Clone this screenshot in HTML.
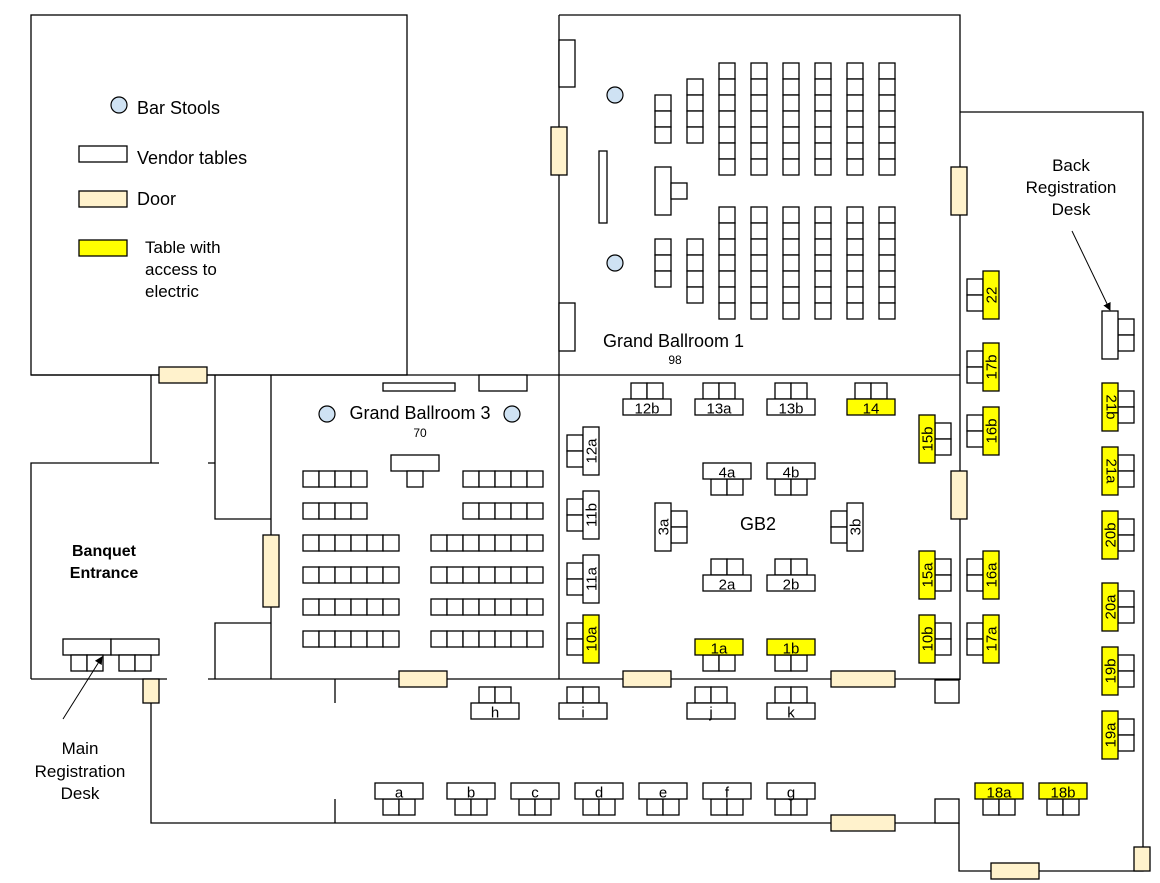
<!DOCTYPE html>
<html><head><meta charset="utf-8"><style>
html,body{margin:0;padding:0;background:#fff;}
svg{display:block;font-family:"Liberation Sans",Arial,sans-serif;}
.w{fill:none;stroke:#000;stroke-width:1.3}
.b{fill:#fff;stroke:#000;stroke-width:1.3}
.y{fill:#ffff00;stroke:#000;stroke-width:1.3}
.d{fill:#fff2cc;stroke:#000;stroke-width:1.3}
.s{fill:#cfe2f3;stroke:#000;stroke-width:1.2}
.t{font-size:15px;text-anchor:middle;fill:#000}
.l{font-size:18px;fill:#000}
</style></head><body>
<svg width="1160" height="883" viewBox="0 0 1160 883" xmlns="http://www.w3.org/2000/svg">
<defs><marker id="ar" markerWidth="8" markerHeight="8" refX="7" refY="4" orient="auto" markerUnits="userSpaceOnUse"><path d="M0,0 L8,4 L0,8 z" fill="#000"/></marker></defs>
<g class="w">
<rect x="31" y="15" width="376" height="360"/>
<path d="M559,15 H960 V680 M559,15 V679"/>
<path d="M31,375 H960"/>
<path d="M271,375 V679"/>
<path d="M31,679 H167 M208,679 H960"/>
<path d="M31,679 V463 H159 M208,463 H215"/>
<path d="M151,375 V463 M215,375 V519 H271 M215,679 V623 H271"/>
<path d="M151,703 V823 H959 M335,679 V703 M335,799 V823"/>
<path d="M960,112 H1143 V871 H959 V823"/>
<rect x="935" y="680" width="24" height="23" class="b"/>
<rect x="935" y="799" width="24" height="24" class="b"/>
</g>
<g class="d">
<rect x="159" y="367" width="48" height="16"/>
<rect x="263" y="535" width="16" height="72"/>
<rect x="143" y="679" width="16" height="24"/>
<rect x="551" y="127" width="16" height="48"/>
<rect x="951" y="167" width="16" height="48"/>
<rect x="951" y="471" width="16" height="48"/>
<rect x="399" y="671" width="48" height="16"/>
<rect x="623" y="671" width="48" height="16"/>
<rect x="831" y="671" width="64" height="16"/>
<rect x="831" y="815" width="64" height="16"/>
<rect x="991" y="863" width="48" height="16"/>
<rect x="1134" y="847" width="16" height="24"/>
</g>
<circle cx="119" cy="105" r="8" class="s"/>
<text x="137" y="114" class="l">Bar Stools</text>
<rect x="79" y="146" width="48" height="16" class="b"/>
<text x="137" y="164" class="l">Vendor tables</text>
<rect x="79" y="191" width="48" height="16" class="d"/>
<text x="137" y="205" class="l">Door</text>
<rect x="79" y="240" width="48" height="16" class="y"/>
<text x="145" y="253" class="l" style="font-size:17px">Table with</text>
<text x="145" y="275" class="l" style="font-size:17px">access to</text>
<text x="145" y="297" class="l" style="font-size:17px">electric</text>
<g class="b">
<rect x="559" y="40" width="16" height="47"/>
<rect x="559" y="303" width="16" height="48"/>
<rect x="599" y="151" width="8" height="72"/>
<rect x="655" y="167" width="16" height="48"/>
<rect x="671" y="183" width="16" height="16"/>
</g>
<circle cx="615" cy="95" r="8" class="s"/>
<circle cx="615" cy="263" r="8" class="s"/>
<g id="cols" class="b"></g>
<text x="603" y="347" class="l">Grand Ballroom 1</text>
<text x="675" y="364" class="t" style="font-size:12px">98</text>
<g class="b">
<rect x="383" y="383" width="72" height="8"/>
<rect x="479" y="375" width="48" height="16"/>
<rect x="391" y="455" width="48" height="16"/>
<rect x="407" y="471" width="16" height="16"/>
</g>
<circle cx="327" cy="414" r="8" class="s"/>
<circle cx="512" cy="414" r="8" class="s"/>
<text x="420" y="419" class="l" text-anchor="middle">Grand Ballroom 3</text>
<text x="420" y="437" class="t" style="font-size:12px">70</text>
<g id="rows" class="b"></g>
<text x="758" y="530" class="l" text-anchor="middle">GB2</text>
<text x="104" y="556" style="font-size:16px;font-weight:bold" text-anchor="middle">Banquet</text>
<text x="104" y="578" style="font-size:16px;font-weight:bold" text-anchor="middle">Entrance</text>
<g class="b">
<rect x="63" y="639" width="48" height="16"/><rect x="111" y="639" width="48" height="16"/>
<rect x="71" y="655" width="16" height="16"/><rect x="87" y="655" width="16" height="16"/>
<rect x="119" y="655" width="16" height="16"/><rect x="135" y="655" width="16" height="16"/>
</g>
<line x1="63" y1="719" x2="102" y2="657" stroke="#000" stroke-width="1" marker-end="url(#ar)"/>
<text x="80" y="754" class="l" style="font-size:17px" text-anchor="middle">Main</text>
<text x="80" y="777" class="l" style="font-size:17px" text-anchor="middle">Registration</text>
<text x="80" y="799" class="l" style="font-size:17px" text-anchor="middle">Desk</text>
<text x="1071" y="171" class="l" style="font-size:17px" text-anchor="middle">Back</text>
<text x="1071" y="193" class="l" style="font-size:17px" text-anchor="middle">Registration</text>
<text x="1071" y="215" class="l" style="font-size:17px" text-anchor="middle">Desk</text>
<line x1="1072" y1="231" x2="1110" y2="310" stroke="#000" stroke-width="1" marker-end="url(#ar)"/>
<g id="tables"></g>
</svg>
<script>
(function(){
var NS="http://www.w3.org/2000/svg";
function r(p,x,y,w,h,c){var e=document.createElementNS(NS,"rect");e.setAttribute("x",x);e.setAttribute("y",y);e.setAttribute("width",w);e.setAttribute("height",h);if(c)e.setAttribute("class",c);p.appendChild(e);}
function t(p,x,y,s,rot){var e=document.createElementNS(NS,"text");e.setAttribute("x",x);e.setAttribute("y",y);e.setAttribute("class","t");e.setAttribute("dominant-baseline","central");if(rot)e.setAttribute("transform","rotate("+rot+" "+x+" "+y+")");e.textContent=s;p.appendChild(e);}
var cols=document.getElementById("cols");
function col(x,y,n){for(var i=0;i<n;i++)r(cols,x,y+16*i,16,16);}
col(655,95,3);col(655,239,3);col(687,79,4);col(687,239,4);
[719,751,783,815,847,879].forEach(function(x){col(x,63,7);col(x,207,7);});
var rows=document.getElementById("rows");
function row(x,y,n){for(var i=0;i<n;i++)r(rows,x+16*i,y,16,16);}
[471,503].forEach(function(y){row(303,y,4);row(463,y,5);});
[535,567,599,631].forEach(function(y){row(303,y,6);row(431,y,7);});
var T=document.getElementById("tables");
function H(x,y,lab,yel,up){var c=yel?"y":"b";
 if(up){r(T,x+8,y-16,16,16,"b");r(T,x+24,y-16,16,16,"b");}else{r(T,x+8,y+16,16,16,"b");r(T,x+24,y+16,16,16,"b");}
 r(T,x,y,48,16,c);t(T,x+24,y+10,lab);}
function V(x,y,lab,yel,left,rot){var c=yel?"y":"b";
 if(left){r(T,x-16,y+8,16,16,"b");r(T,x-16,y+24,16,16,"b");}else{r(T,x+16,y+8,16,16,"b");r(T,x+16,y+24,16,16,"b");}
 r(T,x,y,16,48,c);t(T,x+9,y+24,lab,rot||-90);}
H(623,399,"12b",0,1);H(695,399,"13a",0,1);H(767,399,"13b",0,1);H(847,399,"14",1,1);
H(703,463,"4a",0,0);H(767,463,"4b",0,0);
H(703,575,"2a",0,1);H(767,575,"2b",0,1);
H(695,639,"1a",1,0);H(767,639,"1b",1,0);
V(583,427,"12a",0,1);V(583,491,"11b",0,1);V(583,555,"11a",0,1);V(583,615,"10a",1,1);
V(655,503,"3a",0,0);V(847,503,"3b",0,1);
V(919,415,"15b",1,0);V(919,551,"15a",1,0);V(919,615,"10b",1,0);
V(983,271,"22",1,1);V(983,343,"17b",1,1);V(983,407,"16b",1,1);V(983,551,"16a",1,1);V(983,615,"17a",1,1);
V(1102,311,"",0,0);
V(1102,383,"21b",1,0,90);V(1102,447,"21a",1,0,90);
V(1102,511,"20b",1,0);V(1102,583,"20a",1,0);V(1102,647,"19b",1,0);V(1102,711,"19a",1,0);
H(975,783,"18a",1,0);H(1039,783,"18b",1,0);
H(471,703,"h",0,1);H(559,703,"i",0,1);H(687,703,"j",0,1);H(767,703,"k",0,1);
[["a",375],["b",447],["c",511],["d",575],["e",639],["f",703],["g",767]].forEach(function(a){H(a[1],783,a[0],0,0);});
})();
</script>
</body></html>
